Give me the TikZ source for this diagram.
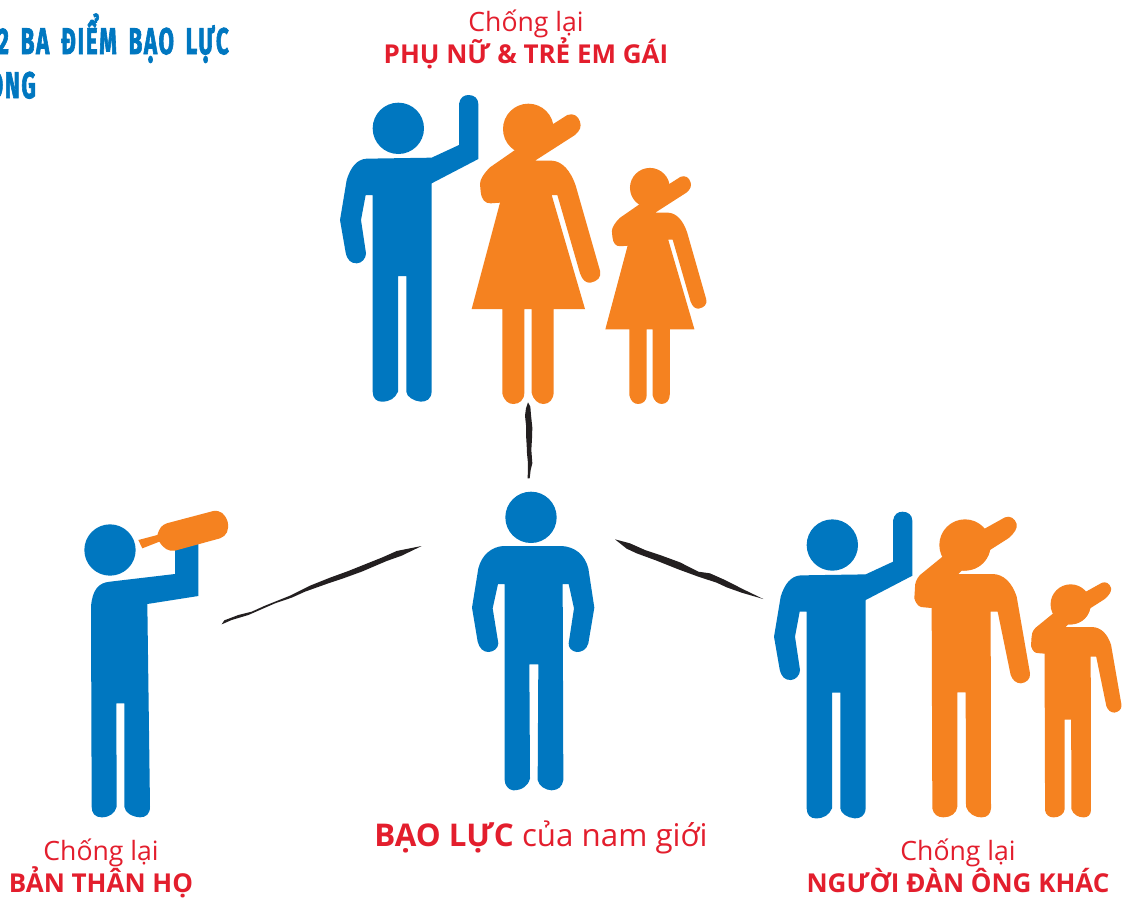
\documentclass[tikz,border=0pt]{standalone}
\usepackage{fontspec}
\setmainfont{Open Sans}
\newfontfamily\headfont[BoldFeatures={FakeBold=2.6},LetterSpace=8]{Fira Sans}
\definecolor{figblue}{RGB}{0,119,192}
\definecolor{figorange}{RGB}{245,130,32}
\definecolor{txtred}{RGB}{227,30,45}
\definecolor{brush}{RGB}{35,31,32}
\newcommand{\wavingman}{%
  \fill[figblue] (205,145) circle (77);
  \fill[figblue] (30,420) -- (50,300) .. controls (62,262) and (80,238) .. (110,236)
    -- (305,233) -- (387,195) -- (387,72) .. controls (390,52) and (402,45) .. (416,45)
    .. controls (432,45) and (445,55) .. (445,72) -- (445,237) -- (305,310) -- (305,935)
    .. controls (303,958) and (290,965) .. (272,965) .. controls (250,963) and (230,950) .. (229,935)
    -- (229,588) -- (204,588) -- (204,935) .. controls (195,955) and (180,965) .. (155,965)
    .. controls (140,965) and (128,955) .. (128,935) -- (128,345) -- (107,345) -- (93,420)
    -- (108,520) .. controls (108,535) and (95,550) .. (80,550)
    .. controls (62,550) and (52,540) .. (47,518) -- cycle;}
\newcommand{\plainman}{%
  \fill[figblue] (213,112) circle (77);
  \fill[figblue] (36,383) -- (55,265) .. controls (65,225) and (95,200) .. (130,198)
    -- (305,198) .. controls (345,200) and (375,225) .. (385,265) -- (403,383) -- (385,490)
    .. controls (380,508) and (365,517) .. (350,516) .. controls (335,514) and (325,503) .. (326,490)
    -- (342,385) -- (326,312) -- (308,312) -- (310,900)
    .. controls (307,920) and (295,930) .. (275,931) .. controls (255,930) and (237,918) .. (233,900)
    -- (235,553) -- (208,553) -- (210,895) .. controls (205,918) and (185,931) .. (160,931)
    .. controls (145,930) and (134,915) .. (134,900) -- (134,312) -- (114,312) -- (98,385)
    -- (115,490) .. controls (115,505) and (100,516) .. (85,516)
    .. controls (70,516) and (58,505) .. (53,485) -- cycle;}
\newcommand{\drinker}{%
  \fill[figblue] (150,150) circle (77);
  \fill[figblue] (93,320) .. controls (97,270) and (115,248) .. (150,245) -- (345,222) -- (345,145)
    -- (415,130) -- (415,288) -- (262,312) -- (270,920) .. controls (270,942) and (258,952) .. (240,952)
    .. controls (215,950) and (195,938) .. (193,920) -- (193,610) -- (169,610) -- (170,920)
    .. controls (165,940) and (148,952) .. (125,952) .. controls (105,952) and (95,940) .. (95,920) -- cycle;
  \fill[figorange] (235,120) -- (292,105) .. controls (298,85) and (305,75) .. (320,70)
    -- (460,33) .. controls (482,30) and (495,42) .. (503,65) .. controls (508,90) and (500,108) .. (480,115)
    -- (345,152) .. controls (325,155) and (310,145) .. (298,125) -- (247,145) -- cycle;}
\newcommand{\woman}{%
  \fill[figorange] (595,147) circle (76);
  \fill[figorange] (555,210) -- (480,262) .. controls (462,280) and (450,298) .. (450,312)
    -- (452,335) .. controls (455,360) and (465,370) .. (482,370) -- (510,368) -- (425,687) -- (517,687)
    -- (517,940) .. controls (522,962) and (535,972) .. (550,972) .. controls (568,972) and (583,960) .. (583,938)
    -- (583,687) -- (605,687) -- (605,938) .. controls (610,960) and (625,972) .. (640,972)
    .. controls (658,972) and (671,958) .. (671,935) -- (671,687) -- (765,687) -- (665,345) -- (682,345)
    -- (750,580) .. controls (757,600) and (768,610) .. (782,608) .. controls (802,604) and (815,592) .. (810,572)
    -- (738,320) .. controls (722,270) and (695,243) .. (665,242) -- (615,242) -- (735,165)
    .. controls (750,152) and (755,140) .. (750,125) .. controls (745,108) and (730,98) .. (712,105)
    -- (668,133) -- cycle;}
\newcommand{\orangeman}{%
  \fill[figorange] (615,135) circle (77);
  \fill[figorange] (545,172) -- (480,225) .. controls (468,238) and (465,250) .. (465,262) -- (463,295)
    .. controls (470,316) and (478,322) .. (492,322) -- (515,324) -- (517,925)
    .. controls (520,942) and (532,952) .. (550,952) .. controls (572,952) and (590,940) .. (592,920)
    -- (592,577) -- (617,577) -- (618,920) .. controls (625,940) and (642,952) .. (665,952)
    .. controls (682,952) and (692,942) .. (693,925) -- (692,335) -- (713,335) -- (752,525)
    .. controls (758,542) and (770,550) .. (783,550) .. controls (798,548) and (812,538) .. (810,520)
    -- (770,290) .. controls (755,245) and (730,224) .. (700,222) -- (595,222) -- (605,212)
    .. controls (650,212) and (680,190) .. (690,150) -- (745,115) .. controls (765,98) and (772,85) .. (770,72)
    .. controls (765,55) and (750,46) .. (735,52) -- (672,87) -- cycle;}
\tikzset{
  figure at/.style={shift={#1},scale=0.33333},
  lead/.style={font=\fontsize{26.6}{27}\selectfont,text=txtred,inner sep=0pt,anchor=base},
  strong/.style={font=\fontsize{26}{27}\selectfont\bfseries,text=txtred,inner sep=0pt,anchor=base},
  headline/.style={font=\headfont\bfseries\fontsize{37}{37}\selectfont,text=figblue,inner sep=0pt,anchor=base east}
}
\begin{document}
\begin{tikzpicture}[x=1pt,y=-1pt]
\useasboundingbox (0,0) rectangle (1122,898);
\fill[white] (0,0) rectangle (1122,898);
% figures
\begin{scope}[figure at={(330,80)}]\wavingman\end{scope}
\begin{scope}[figure at={(330,80)}]\woman\end{scope}
\begin{scope}[shift={(494,149.3)},scale=0.262]\woman\end{scope}
\begin{scope}[figure at={(460,480)}]\plainman\end{scope}
\begin{scope}[figure at={(60,500)}]\drinker\end{scope}
\begin{scope}[figure at={(764,496.7)}]\wavingman\end{scope}
\begin{scope}[figure at={(760,500)}]\orangeman\end{scope}
\begin{scope}[shift={(910.3,569.2)},scale=0.2607]\orangeman\end{scope}
% brush strokes
\begin{scope}[figure at={(500,395)}]
\fill[brush] (84,22) -- (78,40) -- (75,62) -- (78,90) -- (78,118) -- (80,150) -- (81,175) -- (84,205) -- (83,250)
  -- (89,250) -- (92,225) -- (97,205) -- (94,165) -- (96,130) -- (97,98) -- (93,60) -- (91,35) -- cycle;
\end{scope}
\begin{scope}[figure at={(215,535)}]
\fill[brush] (20,268) -- (28,256) -- (70,240) -- (110,230) -- (150,212) -- (225,182) -- (285,152) -- (345,128)
  -- (400,108) -- (445,90) -- (500,68) -- (545,48) -- (620,33) -- (560,62) -- (515,78) -- (440,110) -- (385,130) -- (340,145)
  -- (270,170) -- (230,188) -- (180,205) -- (100,240) -- (50,255) -- cycle;
\end{scope}
\begin{scope}[figure at={(610,530)}]
\fill[brush] (15,28) -- (60,40) -- (105,60) -- (150,75) -- (210,97) -- (265,125) -- (300,130) -- (345,150) -- (400,178) -- (460,207)
  -- (395,188) -- (350,172) -- (320,158) -- (265,140) -- (205,118) -- (140,92) -- (80,70) -- (50,56) -- cycle;
\end{scope}
% labels
\node[lead] (topA) at (526,31) {Chống lại};
\node[strong] (topB) at (526,63) {PHỤ NỮ \& TRẺ EM GÁI};
\node[lead] (leftA) at (101,860) {Chống lại};
\node[strong] (leftB) at (101,892) {BẢN THÂN HỌ};
\node[lead] (rightA) at (958,860) {Chống lại};
\node[strong] (rightB) at (958,892) {NGƯỜI ĐÀN ÔNG KHÁC};
\node[inner sep=0pt,anchor=base,text=txtred] (mid) at (541,846)
  {\fontsize{31.3}{32}\selectfont\textbf{BẠO LỰC} của nam giới};
\node[headline] (head1) at (229,54) {\scalebox{0.6}[1]{2\hspace{8pt} BA\hspace{8pt} ĐIỂM\hspace{8pt} BẠO\hspace{8pt} LỰC}};
\node[headline] (head2) at (36,98) {\scalebox{0.6}[1]{ONG}};
\end{tikzpicture}
\end{document}
